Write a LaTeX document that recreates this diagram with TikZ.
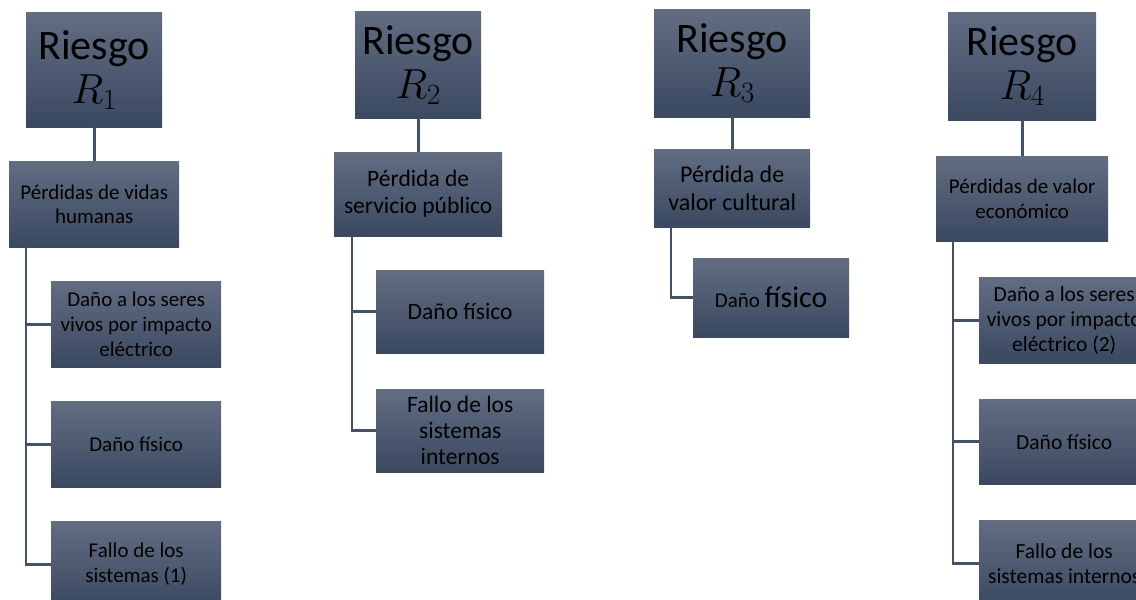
\documentclass[tikz,border=0pt]{standalone}
\usepackage{fix-cm}
\usepackage{fontspec}
\setmainfont{Carlito}
\definecolor{boxtop}{RGB}{98,109,130}
\definecolor{boxbot}{RGB}{58,72,96}
\definecolor{conn}{RGB}{68,82,104}
\begin{document}
\begin{tikzpicture}[x=1pt,y=-1pt,
  box/.style={anchor=north west, top color=boxtop, bottom color=boxbot, draw=none,
    inner sep=0pt, align=center, text=black, font=\fontsize{21}{24}\selectfont},
  head/.style={box, font=\fontsize{42}{44}\selectfont},
  link/.style={draw=conn, line width=2.6pt}]
\useasboundingbox (0,0) rectangle (1136,600);
\clip (0,0) rectangle (1136,600);
% column 1
\node[head, minimum width=136pt, minimum height=115pt] (h1) at (26,12) {Riesgo\\$R_1$};
\node[box, minimum width=170pt, minimum height=86pt] (a1) at (9,161) {Pérdidas de vidas\\humanas};
\node[box, minimum width=170pt, minimum height=86pt, font=\fontsize{21}{25}\selectfont] (a1c1) at (51,281) {Daño a los seres\\vivos por impacto\\eléctrico};
\node[box, minimum width=170pt, minimum height=86pt, font=\fontsize{21}{25}\selectfont] (a1c2) at (51,401) {Daño físico};
\node[box, minimum width=170pt, minimum height=86pt, font=\fontsize{21}{25}\selectfont] (a1c3) at (51,521) {Fallo de los\\sistemas (1)};
% column 2
\node[head, minimum width=126pt, minimum height=107pt] (h2) at (355,11) {Riesgo\\$R_2$};
\node[box, minimum width=168pt, minimum height=84pt, font=\fontsize{23.5}{27}\selectfont] (a2) at (334,152) {Pérdida de\\servicio público};
\node[box, minimum width=168pt, minimum height=83pt, font=\fontsize{23.5}{27}\selectfont] (a2c1) at (376,270) {Daño físico};
\node[box, minimum width=168pt, minimum height=83pt, font=\fontsize{23.5}{26}\selectfont] (a2c2) at (376,389) {Fallo de los\\sistemas\\internos};
% column 3
\node[head, minimum width=156pt, minimum height=108pt] (h3) at (654,9) {Riesgo\\$R_3$};
\node[box, minimum width=156pt, minimum height=78pt, font=\fontsize{24}{28}\selectfont] (a3) at (654,149) {Pérdida de\\valor cultural};
\node[box, minimum width=156pt, minimum height=79pt, font=\fontsize{21}{25}\selectfont] (a3c1) at (693,258) {Daño {\fontsize{30}{34}\selectfont físico}};
% column 4
\node[head, minimum width=148pt, minimum height=108pt] (h4) at (948,12) {Riesgo\\$R_4$};
\node[box, minimum width=172pt, minimum height=85pt, font=\fontsize{21}{25}\selectfont] (a4) at (936,156) {Pérdidas de valor\\económico};
\node[box, minimum width=170pt, minimum height=86pt, font=\fontsize{21.5}{25}\selectfont] (a4c1) at (979,277) {Daño a los seres\\vivos por impacto\\eléctrico (2)};
\node[box, minimum width=170pt, minimum height=85pt, font=\fontsize{21.5}{25}\selectfont] (a4c2) at (979,399) {Daño físico};
\node[box, minimum width=170pt, minimum height=86pt, font=\fontsize{21.5}{25}\selectfont] (a4c3) at (979,520) {Fallo de los\\sistemas internos};
% connectors
\draw[link] (h1.south) -- (a1.north);
\draw[link] ([xshift=17pt]a1.south west) |- (a1c1.west);
\draw[link] ([xshift=17pt]a1.south west) |- (a1c2.west);
\draw[link] ([xshift=17pt]a1.south west) |- (a1c3.west);
\draw[link] (h2.south) -- (a2.north);
\draw[link] ([xshift=18pt]a2.south west) |- (a2c1.west);
\draw[link] ([xshift=18pt]a2.south west) |- (a2c2.west);
\draw[link] (h3.south) -- (a3.north);
\draw[link] ([xshift=17pt]a3.south west) |- (a3c1.west);
\draw[link] (h4.south) -- (a4.north);
\draw[link] ([xshift=17pt]a4.south west) |- (a4c1.west);
\draw[link] ([xshift=17pt]a4.south west) |- (a4c2.west);
\draw[link] ([xshift=17pt]a4.south west) |- (a4c3.west);
\end{tikzpicture}
\end{document}
